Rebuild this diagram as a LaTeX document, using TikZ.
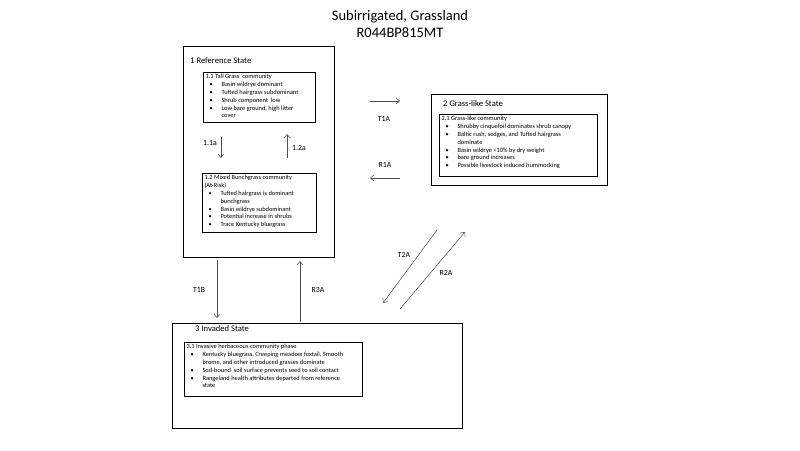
\documentclass[tikz,border=0pt]{standalone}
\usepackage{fontspec}
\setmainfont{Carlito}
\usetikzlibrary{arrows.meta,calc}
\newcommand{\itm}[1]{\makebox[16pt][l]{\hspace{4pt}\textbullet}#1}
\newcommand{\cnt}[1]{\hspace*{16pt}#1}

\tikzset{
  statebox/.style={draw=black, line width=1.2pt, anchor=north west, inner sep=0pt},
  phasebox/.style={draw=black, line width=1.1pt, anchor=north west, inner sep=2pt,
    font=\fontsize{6.4}{7.8}\selectfont},
  statename/.style={anchor=north west, inner sep=0pt, font=\fontsize{8.6}{10}\selectfont},
  pathlbl/.style={inner sep=0pt, font=\fontsize{7.8}{9}\selectfont},
  trans/.style={draw=black!70, line width=0.5pt, -{Straight Barb[length=3.5pt,width=6pt]}}
}

\begin{document}
\begin{tikzpicture}[x=1pt,y=-1pt]
		%%%%% START %%%%%
		\useasboundingbox[fill=white] (0,0) rectangle (800,450);
		
		\node[font=\fontsize{14.5}{17}\selectfont, align=center] (title) at (400,24)
		  {Subirrigated, Grassland\\R044BP815MT};
		
		% state boxes
		\node[statebox, minimum width=151pt, minimum height=211pt] (s1) at (183,46) {};
		\node[statebox, minimum width=176pt, minimum height=91pt] (s2) at (431,94) {};
		\node[statebox, minimum width=290pt, minimum height=105pt] (s3) at (172,323) {};
		
		\node[statename] (s1name) at (190,57) {1 Reference State};
		\node[statename] (s2name) at (443,100) {2 Grass-like State};
		\node[statename] (s3name) at (195,325) {3 Invaded State};
		
		% community phases
		\node[phasebox] (p11) at (203,72) {\parbox[t][46pt][t]{108pt}{%
		  1.1 Tall Grass\ \ community\\
		  \itm{Basin wildrye dominant}\\
		  \itm{Tufted hairgrass subdominant}\\
		  \itm{Shrub component\ \ low}\\
		  \itm{Low bare ground, high litter}\\
		  \cnt{cover}}};
		
		\node[phasebox] (p12) at (202,173) {\parbox[t][55pt][t]{110pt}{%
		  1.2 Mixed Bunchgrass community\\
		  (At-Risk)\\
		  \itm{Tufted hairgrass is dominant}\\
		  \cnt{bunchgrass}\\
		  \itm{Basin wildrye subdominant}\\
		  \itm{Potential increase in shrubs}\\
		  \itm{Trace Kentucky bluegrass}}};
		
		\node[phasebox] (p21) at (439,114) {\parbox[t][58pt][t]{154pt}{%
		  2.1 Grass-like community\\
		  \itm{Shrubby cinquefoil dominates shrub canopy}\\
		  \itm{Baltic rush, sedges, and Tufted hairgrass}\\
		  \cnt{dominate}\\
		  \itm{Basin wildrye <10\% by dry weight}\\
		  \itm{bare ground increases}\\
		  \itm{Possible livestock induced hummocking}}};
		
		\node[phasebox] (p31) at (184,342) {\parbox[t][50pt][t]{174pt}{%
		  3.1 Invasive herbaceous community phase\\
		  \itm{Kentucky bluegrass, Creeping meadow foxtail, Smooth}\\
		  \cnt{brome, and other introduced grasses dominate}\\
		  \itm{Sod-bound\ \ soil surface prevents seed to soil contact}\\
		  \itm{Rangeland health attributes departed from reference}\\
		  \cnt{state}}};
		
		% transition ends
		\coordinate (a11s) at (221,137); \coordinate (a11e) at (221,158);
		\coordinate (a12s) at (287,158); \coordinate (a12e) at (287,134);
		\coordinate (t1as) at (370,101); \coordinate (t1ae) at (400,101);
		\coordinate (r1as) at (400,178); \coordinate (r1ae) at (370,178);
		\coordinate (t1bs) at (217,260); \coordinate (t1be) at (217,318);
		\coordinate (r3as) at (300,322); \coordinate (r3ae) at (300,261);
		\coordinate (t2as) at (437,230); \coordinate (t2ae) at (383,303);
		\coordinate (r2as) at (400,309); \coordinate (r2ae) at (465,232);
		
		\draw[trans] (a11s) -- (a11e);
		\draw[trans] (a12s) -- (a12e);
		\draw[trans] (t1as) -- (t1ae);
		\draw[trans] (r1as) -- (r1ae);
		\draw[trans] (t1bs) -- (t1be);
		\draw[trans] (r3as) -- (r3ae);
		\draw[trans] (t2as) -- (t2ae);
		\draw[trans] (r2as) -- (r2ae);
		
		\node[pathlbl] (l11) at (210,143) {1.1a};
		\node[pathlbl] (l12) at (299,148) {1.2a};
		\node[pathlbl] (lt1a) at (384,119) {T1A};
		\node[pathlbl] (lr1a) at (385,165) {R1A};
		\node[pathlbl] (lt1b) at (199,290) {T1B};
		\node[pathlbl] (lr3a) at (318,290) {R3A};
		\node[pathlbl] (lt2a) at (404,255) {T2A};
		\node[pathlbl] (lr2a) at (446,273) {R2A};
		
		%%%%% END %%%%%
\end{tikzpicture}
\end{document}
